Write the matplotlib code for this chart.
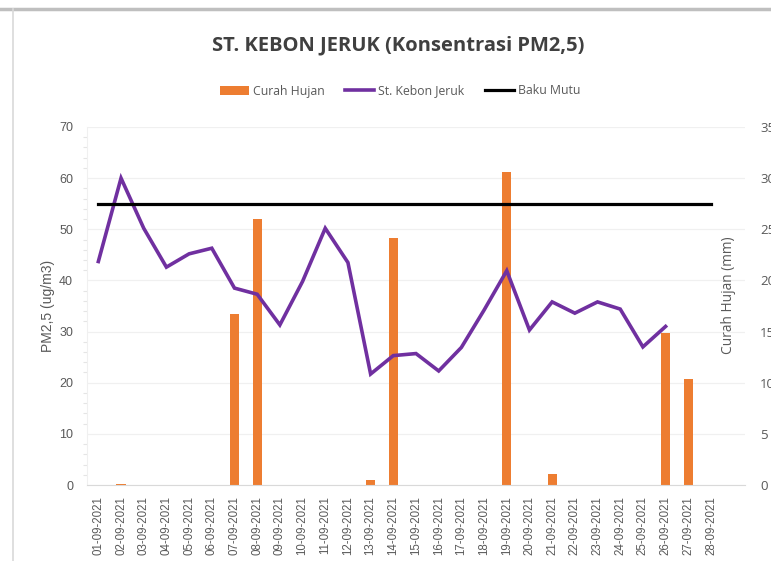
import matplotlib
matplotlib.use("Agg")
import matplotlib.pyplot as plt
from matplotlib.patches import Patch
from matplotlib.lines import Line2D
import numpy as np

dates = ["01-09-2021", "02-09-2021", "03-09-2021", "04-09-2021", "05-09-2021",
         "06-09-2021", "07-09-2021", "08-09-2021", "09-09-2021", "10-09-2021",
         "11-09-2021", "12-09-2021", "13-09-2021", "14-09-2021", "15-09-2021",
         "16-09-2021", "17-09-2021", "18-09-2021", "19-09-2021", "20-09-2021",
         "21-09-2021", "22-09-2021", "23-09-2021", "24-09-2021", "25-09-2021",
         "26-09-2021", "27-09-2021", "28-09-2021"]
pm25 = [43.7, 60.0, 50.2, 42.6, 45.2, 46.3, 38.5, 37.3, 31.3, 39.8,
        50.2, 43.5, 21.7, 25.3, 25.7, 22.3, 26.9, 34.2, 41.9, 30.3,
        35.8, 33.6, 35.8, 34.4, 27.0, 31.0]
curah_hujan = [0, 0.1, 0, 0, 0, 0, 16.7, 26.0, 0, 0,
               0, 0, 0.45, 24.1, 0, 0, 0, 0, 30.6, 0,
               1.1, 0, 0, 0, 0, 14.9, 10.4, 0]
baku_mutu = [55] * len(dates)

ORANGE = "#ED7D31"
PURPLE = "#7030A0"
GRAY = "#595959"

narrow = ["Open Sans", "DejaVu Sans"]
plt.rcParams['font.family'] = ["Liberation Sans", "DejaVu Sans"]

fig = plt.figure(figsize=(7.71, 5.61), dpi=100)
fig.patch.set_facecolor("white")

# outer frame lines
fig.add_artist(Line2D([0, 1], [1 - 9 / 561, 1 - 9 / 561], transform=fig.transFigure,
                      color="#BFBFBF", lw=2.5))
fig.add_artist(Line2D([13 / 771, 13 / 771], [0, 1 - 9 / 561], transform=fig.transFigure,
                      color="#D9D9D9", lw=1.2))

ax = fig.add_axes([87 / 771, 1 - 485 / 561, 658 / 771, 358 / 561])
ax2 = ax.twinx()

x = np.arange(len(dates))

ax2.bar(x, curah_hujan, width=0.4, color=ORANGE, zorder=2)
ax2.set_ylim(0, 35)
ax2.set_yticks(np.arange(0, 36, 5))

ax.set_zorder(ax2.get_zorder() + 1)
ax.patch.set_visible(False)
ax.plot(x[:len(pm25)], pm25, color=PURPLE, lw=2.6, solid_joinstyle="miter", zorder=3)
ax.plot(x, baku_mutu, color="black", lw=2.3, zorder=3)
ax.set_ylim(0, 70)
ax.set_yticks(np.arange(0, 71, 10))
ax.set_xlim(-0.5, len(dates) + 0.5)
ax.set_xticks(x)
ax.set_xticklabels(dates, rotation=90, fontsize=8.3, color=GRAY)

ax2.grid(axis="y", color="#F0F0F0", lw=0.9, zorder=0)
ax2.set_axisbelow(True)

for a in (ax, ax2):
    for s in a.spines.values():
        s.set_visible(False)
ax.spines["bottom"].set_visible(True)
ax.spines["bottom"].set_color("#D9D9D9")
ax.spines["left"].set_visible(True)
ax.spines["left"].set_color("#F0F0F0")

ax.tick_params(axis="y", length=0, labelsize=9, labelcolor=GRAY, pad=10)
ax.set_yticks(np.arange(0, 71, 2), minor=True)
ax.tick_params(axis="y", which="minor", length=3, color="#E5E5E5", width=0.8)
ax.tick_params(axis="x", length=0, pad=8)
ax2.tick_params(axis="y", length=0, labelsize=9, labelcolor=GRAY, pad=11)
for lab in ax2.get_yticklabels():
    lab.set_family(narrow)
    lab.set_fontsize(9.5)

ax.set_ylabel("PM2,5 (ug/m3)", fontsize=10, color=GRAY, labelpad=3)
fig.text(729 / 771, 1 - 295 / 561, "Curah Hujan (mm)", rotation=90, fontsize=9.9,
         color=GRAY, ha="center", va="center", family=narrow)

fig.text(398 / 771, 1 - 45 / 561, "ST. KEBON JERUK (Konsentrasi PM2,5)",
         fontsize=14.5, fontweight="bold", color="#404040", ha="center", va="center",
         family=narrow)

handles = [Patch(facecolor=ORANGE, edgecolor="none"),
           Line2D([0], [0], color=PURPLE, lw=2.6),
           Line2D([0], [0], color="black", lw=2.3)]
labels = ["Curah Hujan", "St. Kebon Jeruk", "Baku Mutu"]
leg = fig.legend(handles, labels, loc="center", bbox_to_anchor=(400 / 771, 1 - 91 / 561),
                 ncol=3, frameon=False, handlelength=2.4, handletextpad=0.3,
                 columnspacing=1.7, handleheight=0.7,
                 prop={"family": narrow, "size": 8.8})
for t in leg.get_texts():
    t.set_color(GRAY)

fig.savefig("out.png", dpi=100, facecolor="white")
